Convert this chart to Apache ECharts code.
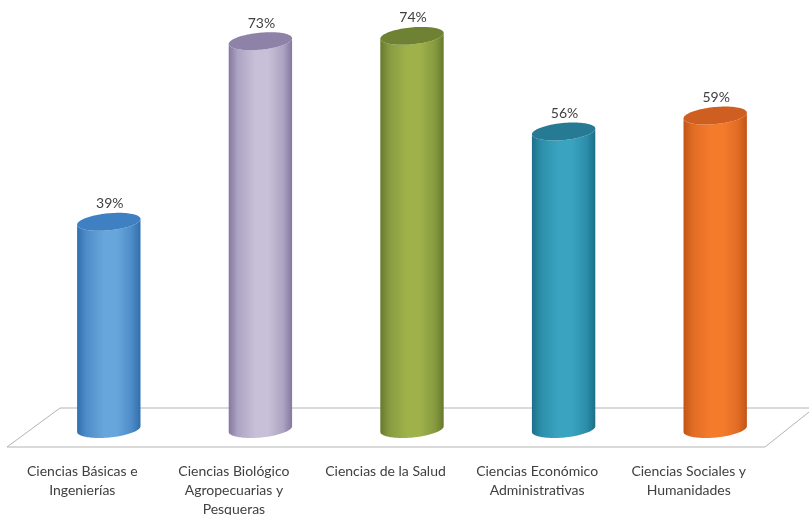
<!DOCTYPE html>
<html><head><meta charset="utf-8">
<style>html,body{margin:0;padding:0;background:#fff}#c{width:809px;height:515px}</style>
<script src="https://cdn.jsdelivr.net/npm/echarts@6/dist/echarts.min.js"></script>
</head><body><div id="c"></div>
<script>
const categories = ["Ciencias Básicas e\nIngenierías","Ciencias Biológico\nAgropecuarias y\nPesqueras","Ciencias de la Salud","Ciencias Económico\nAdministrativas","Ciencias Sociales y\nHumanidades"];
const percentages = [39,73,74,56,59];
const edgeColors = ["#2f6fae","#8478a0","#667a2c","#1c6f88","#c25416"];
const shoulderColors = ["#4d8cc8","#ada3c2","#879a40","#2c8eaa","#e06c24"];
const midColors = ["#67a6dc","#c8c0d8","#9fb24a","#3aa4c0","#f47b2c"];
const topColors = ["#3f80c2","#8f82a8","#6f8234","#267a94","#cf5f20"];

const chart = echarts.init(document.getElementById('c'), null, {renderer:'canvas'});
const tilt = -5.5*Math.PI/180, ry = 8.5;
function pt(cx,cy,a,t){
  const x=a*Math.cos(t), y=ry*Math.sin(t);
  return [cx+x*Math.cos(tilt)-y*Math.sin(tilt), cy+x*Math.sin(tilt)+y*Math.cos(tilt)];
}
function renderItem(params, api){
  const i = api.value(0), v = api.value(1);
  const top = api.coord([i,v]), base = api.coord([i,0]);
  const cx = top[0], a = api.size([1,0])[0]*0.21;
  const body = [], cap = [];
  const N = 48;
  for(let k=0;k<=N;k++) body.push(pt(cx,base[1],a,Math.PI*k/N));
  for(let k=N;k>=0;k--) body.push(pt(cx,top[1],a,Math.PI*k/N));
  for(let k=0;k<2*N;k++) cap.push(pt(cx,top[1],a,Math.PI*k/N));
  return {type:'group',children:[
    {type:'polygon',shape:{points:body},style:{fill:new echarts.graphic.LinearGradient(0,0,1,0,[
      {offset:0,color:edgeColors[i]},{offset:0.14,color:shoulderColors[i]},{offset:0.42,color:midColors[i]},
      {offset:0.62,color:midColors[i]},{offset:0.86,color:shoulderColors[i]},{offset:1,color:edgeColors[i]}])}},
    {type:'polygon',shape:{points:cap},style:{fill:topColors[i]}},
    {type:'text',style:{text:v+'%',x:cx+1,y:top[1]-18,align:'center',verticalAlign:'middle',
      font:'14px Lato, "Open Sans", sans-serif',fill:'#404040'}}
  ]};
}
chart.setOption({
  animation:false,
  backgroundColor:'#fff',
  grid:{left:33,right:18,top:4,bottom:86,outerBoundsMode:'none'},
  xAxis:{type:'category',data:categories,axisLine:{show:false},axisTick:{show:false},splitLine:{show:false},
    axisLabel:{interval:0,margin:33,lineHeight:19,fontSize:14,padding:[0,53,0,0],hideOverlap:false,
      fontFamily:'Lato, "Open Sans", sans-serif',color:'#404040'}},
  yAxis:{type:'value',min:0,max:80,show:false},
  graphic:[{type:'polyline',z:0,silent:true,
    shape:{points:[[809,408],[60,408],[7,447],[765,447],[809,412]]},
    style:{fill:null,stroke:'#b4b4b4',lineWidth:1}}],
  series:[{type:'custom',clip:false,renderItem,encode:{x:0,y:1},
    data:percentages.map((v,i)=>[i,v])}]
});
</script></body></html>
